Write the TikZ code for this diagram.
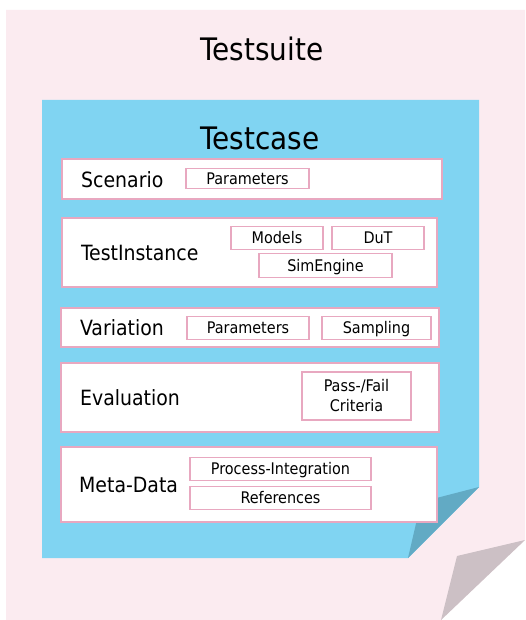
\documentclass[tikz,border=0pt]{standalone}
\usepackage{fontspec}
\setmainfont{DejaVu Sans Condensed}
\definecolor{suitebg}{HTML}{FBEBF0}
\definecolor{casebg}{HTML}{80D4F2}
\definecolor{pinkline}{HTML}{E8A8C0}
\definecolor{bluefold}{HTML}{62AAC4}
\definecolor{greyfold}{HTML}{CCC0C5}
\tikzset{
  wbox/.style={draw=pinkline, fill=white, line width=1.6pt, inner sep=0pt},
  pbase/.style={wbox, font=\fontsize{16}{20}\selectfont, align=center},
  pbox/.style={pbase, text height=11.5pt, text depth=0pt},
  lbl/.style={anchor=west, inner sep=0pt, font=\fontsize{21}{25}\selectfont},
  ttl/.style={inner sep=0pt, font=\fontsize{31}{36}\selectfont}
}
\begin{document}
\begin{tikzpicture}[x=1pt,y=-1pt]
\useasboundingbox (0,0) rectangle (525,620);
% Testsuite sheet
\fill[suitebg] (6,10) -- (525,10) -- (525,540) -- (441,620) -- (6,620) -- cycle;
\fill[greyfold] (525,540) -- (457,556) -- (441,620) -- cycle;
\node[ttl] (suite) at (262,48.5) {Testsuite};
% Testcase sheet
\fill[casebg] (42,100) -- (479,100) -- (479,487) -- (408,558) -- (42,558) -- cycle;
\fill[bluefold] (479,487) -- (421,502) -- (408,558) -- cycle;
\node[ttl] (case) at (260,138.5) {Testcase};
% Scenario
\node[wbox, minimum width=380pt, minimum height=40pt] (scen) at (252,179) {};
\node[lbl] (scenl) at (81,180) {Scenario};
\node[pbox, minimum width=123pt, minimum height=20pt] (par1) at (247.5,178.5) {Parameters};
% TestInstance
\node[wbox, minimum width=375pt, minimum height=69pt] (inst) at (249.5,252.5) {};
\node[lbl] (instl) at (81,253) {TestInstance};
\node[pbox, minimum width=92pt, minimum height=23pt] (models) at (277,238) {Models};
\node[pbox, minimum width=92pt, minimum height=23pt] (dut) at (378,238) {DuT};
\node[pbox, minimum width=133pt, minimum height=24pt] (sim) at (325.5,265.5) {SimEngine};
% Variation
\node[wbox, minimum width=378pt, minimum height=39pt] (var) at (250,327.5) {};
\node[lbl] (varl) at (80,328) {Variation};
\node[pbox, minimum width=122pt, minimum height=23pt] (par2) at (248,328) {Parameters};
\node[pbox, minimum width=109pt, minimum height=23pt] (samp) at (376.5,328) {Sampling};
% Evaluation
\node[wbox, minimum width=378pt, minimum height=69pt] (eval) at (250,397.5) {};
\node[lbl] (evall) at (80,398) {Evaluation};
\node[pbase, minimum width=109pt, minimum height=48pt] (pf) at (356.5,396) {Pass-/Fail\\Criteria};
% Meta-Data
\node[wbox, minimum width=376pt, minimum height=75pt] (meta) at (249,484.5) {};
\node[lbl] (metal) at (79,485) {Meta-Data};
\node[pbox, minimum width=181pt, minimum height=23pt] (proc) at (280.5,469) {Process-Integration};
\node[pbox, minimum width=181pt, minimum height=23pt] (refs) at (280.5,498) {References};
\end{tikzpicture}
\end{document}
